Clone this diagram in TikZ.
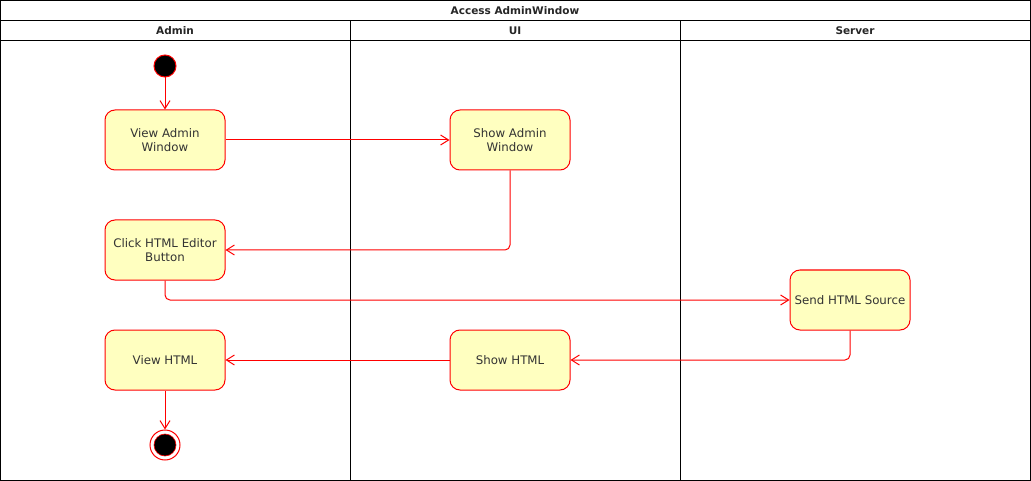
\documentclass[tikz,border=0pt]{standalone}
\usepackage{fontspec}
\setmainfont{DejaVu Sans}
\usetikzlibrary{arrows.meta,positioning}

\definecolor{actfill}{HTML}{FFFFC0}
\definecolor{acttext}{HTML}{333333}

\begin{document}
\begin{tikzpicture}[x=1pt, y=-1pt,
  activity/.style={draw=red, fill=actfill, rounded corners=10pt, line width=1pt,
    minimum width=120pt, minimum height=60pt, align=center, text=acttext,
    font=\fontsize{11.8}{14}\selectfont},
  flow/.style={draw=red, line width=1pt, rounded corners=5pt,
    -{Straight Barb[length=8pt,width=10pt]}},
  lanehead/.style={font=\fontsize{10.5}{12}\selectfont\bfseries, text=black!85}
]
\useasboundingbox (0,0) rectangle (1031,481);

% ================= SWIMLANES =================
\draw[line width=1pt] (0.5,0.5) rectangle (1030.5,480.5);
\draw[line width=1pt] (0.5,20.5) -- (1030.5,20.5);
\draw[line width=1pt] (0.5,40.5) -- (1030.5,40.5);
\draw[line width=1pt] (350.5,20.5) -- (350.5,480.5);
\draw[line width=1pt] (680.5,20.5) -- (680.5,480.5);

\node[lanehead] (title) at (515,10.5) {Access AdminWindow};
\node[lanehead] (admin) at (175,30.5) {Admin};
\node[lanehead] (ui) at (515,30.5) {UI};
\node[lanehead] (server) at (855,30.5) {Server};

% ================= NODES =================
\node[circle, draw=red, fill=black, line width=1pt, minimum size=22pt, inner sep=0pt]
  (start) at (165,66) {};

\node[activity] (viewadmin) at (165,140) {View Admin\\Window};
\node[activity] (showadmin) at (510,140) {Show Admin\\Window};
\node[activity] (clickeditor) at (165,250) {Click HTML Editor\\Button};
\node[activity] (sendsource) at (850,300) {Send HTML Source};
\node[activity] (viewhtml) at (165,360) {View HTML};
\node[activity] (showhtml) at (510,360) {Show HTML};

\node[circle, draw=red, fill=white, line width=1pt, minimum size=30pt, inner sep=0pt]
  (end) at (165,445) {};
\fill[black, draw=red, line width=0.6pt] (end.center) circle (11);

% ================= FLOWS =================
\draw[flow] (start) -- (viewadmin);
\draw[flow] (viewadmin) -- (showadmin);
\draw[flow] (showadmin.south) |- (clickeditor.east);
\draw[flow] (clickeditor.south) |- (sendsource.west);
\draw[flow] (sendsource.south) |- (showhtml.east);
\draw[flow] (showhtml) -- (viewhtml);
\draw[flow] (viewhtml) -- (end);

\end{tikzpicture}
\end{document}
